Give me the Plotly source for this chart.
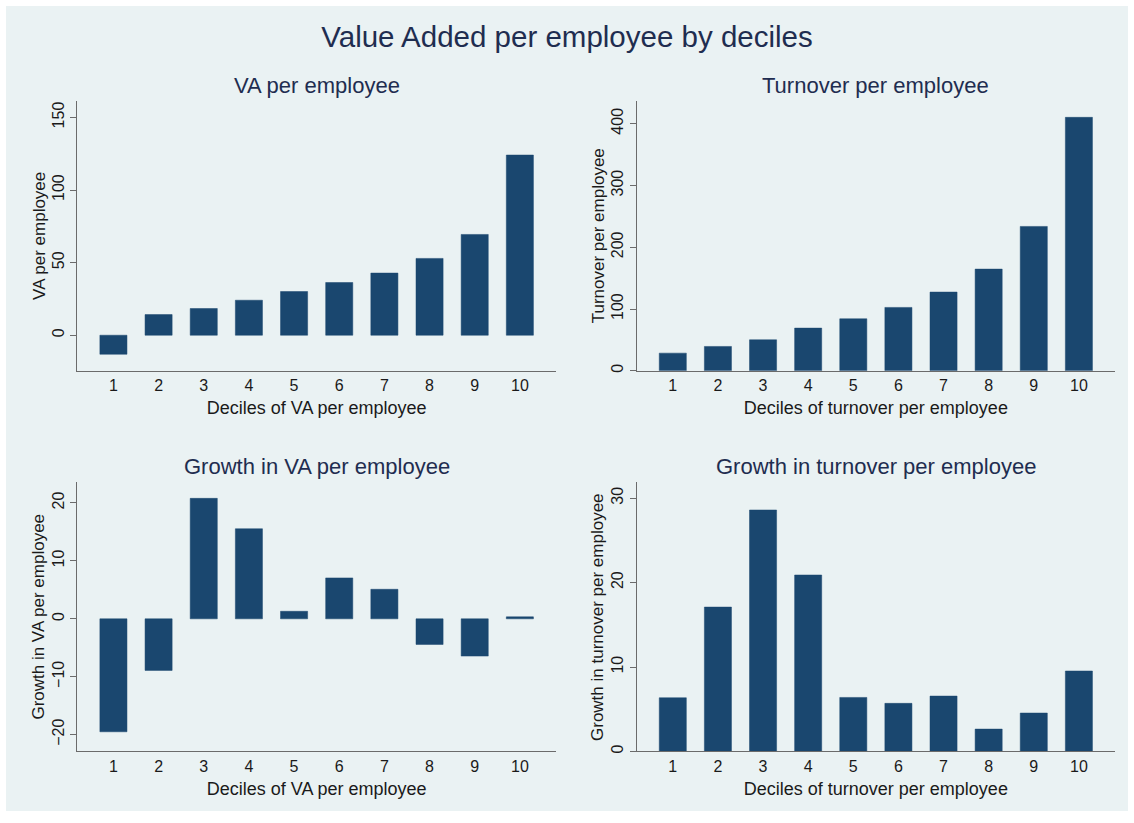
import plotly.graph_objects as go

# Deciles (x categories)
deciles = [1, 2, 3, 4, 5, 6, 7, 8, 9, 10]

# Series values per decile
va_per_emp = [-13.1, 14.2, 18.4, 24.1, 30.1, 36.3, 42.8, 52.9, 69.4, 124.1]
turnover_per_emp = [28.6, 39.4, 50.2, 69.1, 84.2, 102.6, 127.4, 164.6, 233.7, 410.3]
growth_va = [-19.5, -8.9, 20.8, 15.55, 1.3, 7.06, 5.1, -4.42, -6.43, 0.34]
growth_turnover = [6.36, 17.1, 28.6, 20.9, 6.4, 5.7, 6.56, 2.65, 4.55, 9.53]

# Panel texts
main_title = "Value Added per employee by deciles"
panel_titles = ["VA per employee", "Turnover per employee",
                "Growth in VA per employee", "Growth in turnover per employee"]
y_titles = ["VA per employee", "Turnover per employee",
            "Growth in VA per employee", "Growth in turnover per employee"]
x_titles = ["Deciles of VA per employee", "Deciles of turnover per employee",
            "Deciles of VA per employee", "Deciles of turnover per employee"]
y_tickvals = [[0, 50, 100, 150], [0, 100, 200, 300, 400],
              [-20, -10, 0, 10, 20], [0, 10, 20, 30]]
y_ranges = [[-24.5, 161], [0, 436], [-22.9, 23.6], [0, 31.9]]

W, H = 1134, 823
BG = "#eaf2f3"
BAR = "#1a476f"
TITLE_C = "#1f2d50"
TEXT_C = "#1a1a1a"
AXIS_C = "#6b6b6b"
FONT = "Liberation Sans, Arial, sans-serif"

# Pixel boxes of the four plot regions (left, right, top, bottom)
boxes = [(77.3, 556, 101.7, 371.7), (636.7, 1115, 101.7, 371.7),
         (77.3, 556, 483.3, 753.3), (636.7, 1115, 483.3, 753.3)]

fig = go.Figure()
series = [va_per_emp, turnover_per_emp, growth_va, growth_turnover]

layout = dict(
    width=W, height=H,
    margin=dict(l=0, r=0, t=0, b=0),
    paper_bgcolor="white",
    plot_bgcolor="white",
    showlegend=False,
    bargap=0.4,
    font=dict(family=FONT, color=TEXT_C),
    title=dict(text=main_title, x=0.5, xanchor="center",
               y=1 - 37 / H, yanchor="middle",
               font=dict(size=29.5, color=TITLE_C, family=FONT)),
)

annotations = []
for i, (vals, box) in enumerate(zip(series, boxes)):
    n = "" if i == 0 else str(i + 1)
    l, r, t, b = box
    fig.add_trace(go.Bar(x=deciles, y=vals, xaxis="x" + n, yaxis="y" + n,
                         marker=dict(color=BAR, line=dict(color=BAR, width=0.5)),
                         width=0.6))
    layout["xaxis" + n] = dict(
        domain=[l / W, r / W], anchor="y" + n,
        range=[0.2, 10.8], tickvals=deciles, ticks="",
        showgrid=False, zeroline=False,
        showline=True, linecolor=AXIS_C, linewidth=1.3,
        tickfont=dict(size=16, color=TEXT_C),
        title=dict(text=x_titles[i], font=dict(size=18, color=TEXT_C), standoff=8),
    )
    layout["yaxis" + n] = dict(
        domain=[1 - b / H, 1 - t / H], anchor="x" + n,
        range=y_ranges[i], tickvals=y_tickvals[i],
        ticks="outside", ticklen=6, tickcolor=AXIS_C, tickangle=-90,
        showgrid=True, gridcolor=BG, gridwidth=1.2, zeroline=False,
        showline=True, linecolor=AXIS_C, linewidth=1.3,
        tickfont=dict(size=16, color=TEXT_C),
    )
    # Panel title
    annotations.append(dict(
        text=panel_titles[i], x=(l + r) / 2 / W, y=1 - (t - 16) / H,
        xref="paper", yref="paper", xanchor="center", yanchor="middle",
        showarrow=False, font=dict(size=22, color=TITLE_C, family=FONT)))
    # Vertical y-axis title
    annotations.append(dict(
        text=y_titles[i], x=(l - 38.5) / W, y=1 - (t + b) / 2 / H,
        xref="paper", yref="paper", xanchor="center", yanchor="middle",
        textangle=-90, showarrow=False,
        font=dict(size=17, color=TEXT_C, family=FONT)))

layout["annotations"] = annotations
layout["shapes"] = [dict(type="rect", xref="paper", yref="paper", layer="below",
                         x0=6 / W, x1=1128 / W, y0=1 - 813 / H, y1=1 - 6 / H,
                         fillcolor=BG, line=dict(width=0))]
fig.update_layout(**layout)
fig.write_html("out.html")
